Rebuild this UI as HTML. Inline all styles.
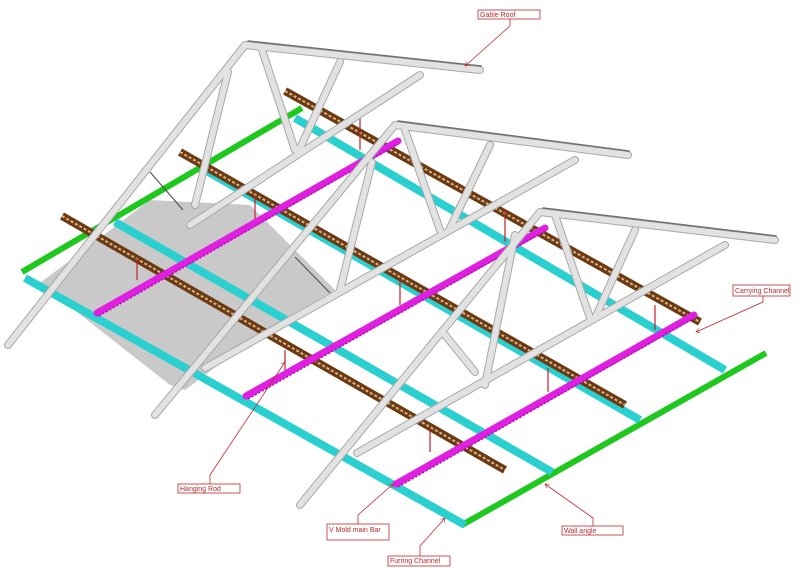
<!DOCTYPE html>
<html><head><meta charset="utf-8"><style>
html,body{margin:0;padding:0;background:#fff}
svg{display:block}
text{font-family:"Liberation Sans",sans-serif;font-size:7px;fill:#c0282a}
</style></head><body>
<svg width="800" height="573" viewBox="0 0 800 573" xmlns="http://www.w3.org/2000/svg">
<defs>
<marker id="ar" markerWidth="6" markerHeight="6" refX="5" refY="3" orient="auto"><path d="M0,0 L5,3 L0,6" fill="none" stroke="#c0282a" stroke-width="0.8"/></marker>
</defs>
<!-- gray plane -->
<polygon points="40,283 150,200 250,205 335,290 265,330 185,390 170,385" fill="#c9c9c9"/>
<!-- green wall angles -->
<g stroke="#1ec81e" stroke-width="6" stroke-linecap="butt">
<line x1="22" y1="272" x2="302" y2="108"/>
<line x1="462" y1="525" x2="766" y2="353"/>
</g>
<!-- cyan furring -->
<g stroke="#2ad0d0" stroke-width="8">
<line x1="25" y1="278" x2="465" y2="525"/>
<line x1="115" y1="222" x2="552" y2="472"/>
<line x1="205" y1="170" x2="640" y2="420"/>
<line x1="295" y1="118" x2="725" y2="370"/>
</g>
<!-- carrying channels -->
<g stroke-linecap="butt">
<g stroke="#6b3a12" stroke-width="8">
<line x1="285" y1="91" x2="700" y2="322"/>
<line x1="180" y1="152" x2="625" y2="405"/>
<line x1="62" y1="216" x2="505" y2="470"/>
</g>
<g stroke="#d9b48a" stroke-width="2" stroke-dasharray="3 2">
<line x1="285" y1="91" x2="700" y2="322"/>
<line x1="180" y1="152" x2="625" y2="405"/>
<line x1="62" y1="216" x2="505" y2="470"/>
</g>
</g>
<!-- hanging rods -->
<g stroke="#c0202a" stroke-width="1.2">
<line x1="360" y1="118" x2="360" y2="150"/>
<line x1="255" y1="195" x2="255" y2="222"/>
<line x1="137" y1="258" x2="137" y2="280"/>
<line x1="505" y1="210" x2="505" y2="242"/>
<line x1="400" y1="280" x2="400" y2="305"/>
<line x1="285" y1="350" x2="285" y2="370"/>
<line x1="655" y1="305" x2="655" y2="330"/>
<line x1="548" y1="368" x2="548" y2="392"/>
<line x1="430" y1="430" x2="430" y2="452"/>
</g>
<!-- magenta V mold -->
<g stroke="#e020e0" stroke-width="7" stroke-linecap="round">
<line x1="97" y1="313" x2="398" y2="141"/>
<line x1="246" y1="396" x2="545" y2="228"/>
<line x1="396" y1="484" x2="694" y2="315"/>
</g>
<g stroke="#b010b0" stroke-width="1.5" stroke-dasharray="2 2">
<line x1="99" y1="316" x2="398" y2="144"/>
<line x1="248" y1="399" x2="545" y2="231"/>
<line x1="398" y1="487" x2="694" y2="318"/>
</g>
<!-- thin dark struts -->
<g stroke="#555" stroke-width="1.2">
<line x1="150" y1="172" x2="183" y2="210"/>
<line x1="295" y1="257" x2="330" y2="293"/>
</g>
<!-- trusses -->
<g stroke-linecap="round" fill="none">
<g stroke="#a8a8a8" stroke-width="8">
<path d="M245,45 L8,345 M245,45 L480,70 M420,75 L190,225 M262,50 L295,150 M340,62 L300,148 M228,72 L195,205"/>
<path d="M395,125 L155,415 M395,125 L628,155 M575,160 L205,368 M405,130 L440,230 M490,145 L450,228 M372,162 L340,290"/>
<path d="M540,212 L300,505 M540,212 L775,240 M725,245 L357,453 M555,215 L590,318 M635,230 L595,318 M515,235 L485,385 M445,335 L475,372"/>
</g>
<g stroke="#e2e2e2" stroke-width="6">
<path d="M245,45 L8,345 M245,45 L480,70 M420,75 L190,225 M262,50 L295,150 M340,62 L300,148 M228,72 L195,205"/>
<path d="M395,125 L155,415 M395,125 L628,155 M575,160 L205,368 M405,130 L440,230 M490,145 L450,228 M372,162 L340,290"/>
<path d="M540,212 L300,505 M540,212 L775,240 M725,245 L357,453 M555,215 L590,318 M635,230 L595,318 M515,235 L485,385 M445,335 L475,372"/>
</g>
<g stroke="#707070" stroke-width="1.5">
<path d="M248,41 L481,66 M398,121 L629,151 M543,208 L776,236"/>
</g>
</g>
<!-- labels -->
<g fill="none" stroke="#c0282a" stroke-width="0.8">
<rect x="478" y="10" width="62" height="9"/>
<rect x="733" y="285" width="57" height="11"/>
<rect x="178" y="484" width="62" height="9"/>
<rect x="327" y="524" width="62" height="16"/>
<rect x="388" y="556" width="62" height="10"/>
<rect x="562" y="526" width="61" height="9"/>
<path d="M510,19 L510,26 L465,66" marker-end="url(#ar)"/>
<path d="M763,296 L763,302 L696,332" marker-end="url(#ar)"/>
<path d="M210,484 L210,475 L285,362" marker-end="url(#ar)"/>
<path d="M358,524 L358,515 L393,484" marker-end="url(#ar)"/>
<path d="M420,556 L420,546 L445,518" marker-end="url(#ar)"/>
<path d="M593,526 L593,518 L545,484" marker-end="url(#ar)"/>
</g>
<text x="480" y="17">Gable Roof</text>
<text x="735" y="293">Carrying Channel</text>
<text x="180" y="491">Hanging Rod</text>
<text x="329" y="532">V Mold main Bar</text>
<text x="390" y="563">Furring Channel</text>
<text x="564" y="533">Wall angle</text>
</svg>
</body></html>
